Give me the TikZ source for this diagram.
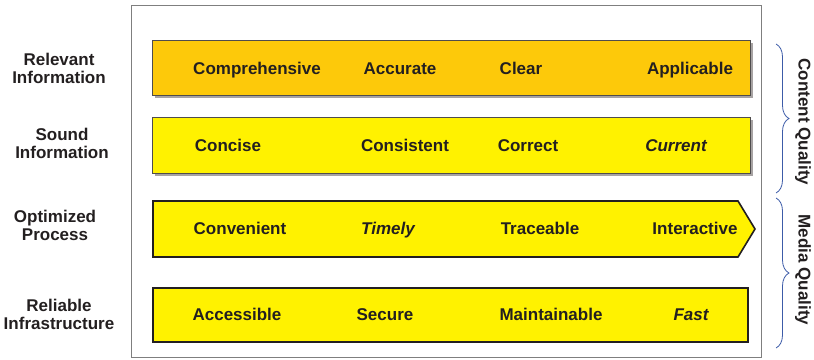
\documentclass[tikz,border=0pt]{standalone}
\usepackage{fontspec}
\setmainfont{Liberation Sans}
\usetikzlibrary{decorations.pathreplacing}
\definecolor{txt}{HTML}{231F20}
\definecolor{orng}{HTML}{FDC90A}
\definecolor{yelw}{HTML}{FFF200}
\definecolor{frm}{HTML}{7F7F7F}
\definecolor{shd}{HTML}{A7A3A3}
\definecolor{brc}{HTML}{3C5BA8}
\tikzset{
  lbl/.style={font=\fontsize{17}{18}\selectfont\bfseries, text=txt, inner sep=0pt, anchor=base},
  itl/.style={lbl, font=\fontsize{17}{18}\selectfont\bfseries\itshape},
  side/.style={font=\fontsize{17}{18}\selectfont\bfseries, text=txt, inner sep=0pt, align=center},
  bar/.style={line width=0.8pt, draw=txt!80},
  shadowbar/.style={fill=shd, draw=none},
  qbrace/.style={draw=brc, line width=0.8pt, decorate, decoration={brace, amplitude=13pt}},
  qlbl/.style={font=\fontsize{17}{18}\selectfont\bfseries, text=txt, inner sep=0pt, rotate=-90}
}
\begin{document}
\begin{tikzpicture}[x=1pt,y=-1pt]
\useasboundingbox (0,0) rectangle (814,359);
% outer frame
\draw[frm, line width=1pt] (131,5) rectangle (761,357.5);
% bar 1
\fill[shadowbar] (155,43) rectangle (753,98);
\draw[bar, fill=orng] (152,40) rectangle (750,95);
% bar 2
\fill[shadowbar] (155,120) rectangle (753,176);
\draw[bar, fill=yelw] (152,117) rectangle (750,173);
% bar 3 arrow
\draw[line width=1.6pt, draw=txt, fill=yelw] (153,201) -- (738,201) -- (755,229) -- (738,257) -- (153,257) -- cycle;
% bar 4
\draw[line width=2.6pt, draw=txt, fill=yelw] (153,288) rectangle (748,342);

% row texts
\node[lbl] (comp) at (257,74) {Comprehensive};
\node[lbl] (accu) at (400,74) {Accurate};
\node[lbl] (clea) at (521,74) {Clear};
\node[lbl] (appl) at (690,74) {Applicable};

\node[lbl] (conc) at (228,151) {Concise};
\node[lbl] (cons) at (405,151) {Consistent};
\node[lbl] (corr) at (528,151) {Correct};
\node[itl] (curr) at (676,151) {Current};

\node[lbl] (conv) at (240,234) {Convenient};
\node[itl] (time) at (388,234) {Timely};
\node[lbl] (trac) at (540,234) {Traceable};
\node[lbl] (inte) at (695,234) {Interactive};

\node[lbl] (acce) at (237,320) {Accessible};
\node[lbl] (secu) at (385,320) {Secure};
\node[lbl] (main) at (551,320) {Maintainable};
\node[itl] (fast) at (691,320) {Fast};

% left labels
\node[side] (rel) at (59,68) {Relevant\\Information};
\node[side] (snd) at (62,143) {Sound\\Information};
\node[side] (opt) at (55,225) {Optimized\\Process};
\node[side] (rin) at (59,314) {Reliable\\Infrastructure};

% braces
\coordinate (cb1) at (776,44);
\coordinate (cb2) at (776,193);
\coordinate (mb1) at (776,198);
\coordinate (mb2) at (776,348);
\draw[qbrace] (cb1) -- (cb2);
\draw[qbrace] (mb1) -- (mb2);
\node[qlbl] (cq) at (803,122) {Content Quality};
\node[qlbl] (mq) at (803,270) {Media Quality};
\end{tikzpicture}
\end{document}
